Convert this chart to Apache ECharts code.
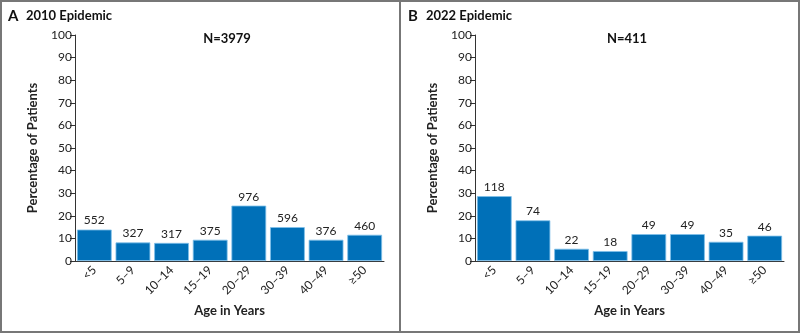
<!DOCTYPE html>
<html><head><meta charset="utf-8">
<script src="https://cdn.jsdelivr.net/npm/echarts@6/dist/echarts.min.js"></script>
<style>html,body{margin:0;padding:0;background:#fff}#c{width:800px;height:333px}</style>
</head><body><div id="c"></div>
<script>
const categories = ['<5','5–9','10–14','15–19','20–29','30–39','40–49','≥50'];
const pct2010 = [13.9, 8.2, 8.0, 9.4, 24.5, 15.0, 9.4, 11.6];
const counts2010 = [552, 327, 317, 375, 976, 596, 376, 460];
const pct2022 = [28.7, 18.0, 5.4, 4.4, 11.9, 11.9, 8.5, 11.2];
const counts2022 = [118, 74, 22, 18, 49, 49, 35, 46];
const yTicks = [0,10,20,30,40,50,60,70,80,90,100];

const FONT = 'Lato, "Open Sans", sans-serif';
const chart = echarts.init(document.getElementById('c'));

function xAxis(gi){
  return {gridIndex:gi,type:'category',data:categories,
    axisLine:{lineStyle:{color:'#333',width:1}},
    axisTick:{alignWithLabel:true,length:4,lineStyle:{color:'#333'}},
    axisLabel:{rotate:45,fontSize:12,color:'#222',fontFamily:FONT,margin:7},
    name:'Age in Years',nameLocation:'middle',nameGap:43,
    nameTextStyle:{fontSize:13,fontWeight:'bold',color:'#222',fontFamily:FONT}};
}
function yAxis(gi){
  return {gridIndex:gi,type:'value',min:0,max:100,interval:10,
    axisLine:{show:true,lineStyle:{color:'#333',width:1}},
    axisTick:{show:true,inside:false,length:5,lineStyle:{color:'#333'}},
    splitLine:{show:false},
    axisLabel:{fontSize:12,color:'#222',fontFamily:FONT,margin:3,
      formatter:v=>yTicks.includes(v)?String(v):''},
    name:'Percentage of Patients',nameLocation:'middle',nameGap:36,
    nameTextStyle:{fontSize:13,fontWeight:'bold',color:'#222',fontFamily:FONT}};
}
function bars(gi,vals,cnts){
  return {type:'bar',xAxisIndex:gi,yAxisIndex:gi,data:vals,barCategoryGap:'10%',
    itemStyle:{color:'#0070B8',borderColor:'#7fc0ea',borderWidth:0.8},
    label:{show:true,position:'top',distance:3,fontSize:12,color:'#222',fontFamily:FONT,
      formatter:p=>String(cnts[p.dataIndex])}};
}
chart.setOption({
  animation:false,
  grid:[{left:75,top:35,width:309,height:226},{left:475,top:35,width:309,height:226}],
  xAxis:[xAxis(0),xAxis(1)],
  yAxis:[yAxis(0),yAxis(1)],
  series:[bars(0,pct2010,counts2010),bars(1,pct2022,counts2022)],
  graphic:[
    {type:'rect',shape:{x:1,y:1,width:798,height:331},style:{fill:'none',stroke:'#777',lineWidth:2}},
    {type:'line',shape:{x1:400,y1:0,x2:400,y2:333},style:{stroke:'#777',lineWidth:2}},
    {type:'text',x:8,y:16,style:{text:'A',font:'bold 15px '+FONT,fill:'#111',verticalAlign:'middle'}},
    {type:'text',x:26,y:16,style:{text:'2010 Epidemic',font:'bold 13px '+FONT,fill:'#111',verticalAlign:'middle'}},
    {type:'text',x:408,y:16,style:{text:'B',font:'bold 15px '+FONT,fill:'#111',verticalAlign:'middle'}},
    {type:'text',x:426,y:16,style:{text:'2022 Epidemic',font:'bold 13px '+FONT,fill:'#111',verticalAlign:'middle'}},
    {type:'text',x:227,y:39,style:{text:'N=3979',font:'bold 13px '+FONT,fill:'#111',align:'center',verticalAlign:'middle'}},
    {type:'text',x:627,y:39,style:{text:'N=411',font:'bold 13px '+FONT,fill:'#111',align:'center',verticalAlign:'middle'}}
  ]
});
</script></body></html>
